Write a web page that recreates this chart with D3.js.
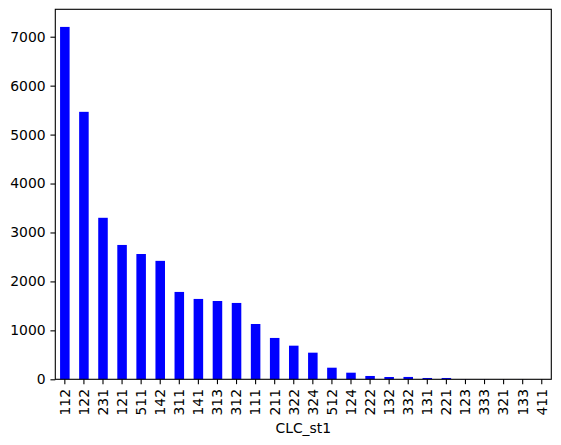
<!DOCTYPE html>
<html>
<head>
<meta charset="utf-8">
<script src="https://cdn.jsdelivr.net/npm/d3@7"></script>
<style>
  body { margin: 0; background: #fff; }
  svg text { font-family: "DejaVu Sans", sans-serif; }
</style>
</head>
<body>
<svg id="chart"></svg>
<script>
// CLC_st1 class counts
var categories = ["112","122","231","121","511","142","311","141","313","312","111","211","322",
                  "324","512","124","222","132","332","131","221","123","333","321","133","411"];
var counts = [7200, 5465, 3300, 2745, 2560, 2420, 1785, 1642, 1600, 1560, 1130, 845, 687,
              544, 237, 135, 68, 47, 48, 27, 27, 4, 3, 2, 2, 1];
var yTicks = [0, 1000, 2000, 3000, 4000, 5000, 6000, 7000];

var width = 561,
    height = 445;
var margin = {top: 9.3, right: 9.7, bottom: 65.7, left: 55.3};
var fontSize = "13.9px",
    tickLen = 4.86;

var svg = d3.select("svg#chart")
  .attr("width", width)
  .attr("height", height);

var x = d3.scaleBand()
  .domain(categories)
  .range([margin.left, width - margin.right])
  .paddingInner(0.5)
  .paddingOuter(0.25);

var y = d3.scaleLinear()
  .domain([0, 7560])
  .range([height - margin.bottom, margin.top]);

// bars
svg.append("g")
  .selectAll("rect")
  .data(counts)
  .enter().append("rect")
    .attr("x", function(d, i){ return x(categories[i]); })
    .attr("y", function(d){ return y(d); })
    .attr("width", x.bandwidth())
    .attr("height", function(d){ return y(0) - y(d); })
    .attr("fill", "#0000ff");

// x axis
var xAxis = svg.append("g")
  .attr("transform", "translate(0," + (height - margin.bottom) + ")")
  .call(d3.axisBottom(x).tickSize(tickLen).tickPadding(tickLen));
xAxis.select(".domain").remove();
xAxis.selectAll("line").attr("stroke", "#000").attr("stroke-width", 1.1);
xAxis.selectAll("text")
  .attr("font-size", fontSize)
  .attr("fill", "#000")
  .attr("transform", "rotate(-90)")
  .attr("text-anchor", "end")
  .attr("x", -2 * tickLen)
  .attr("y", 0)
  .attr("dy", "0.35em");

// y axis
var yAxis = svg.append("g")
  .attr("transform", "translate(" + margin.left + ",0)")
  .call(d3.axisLeft(y).tickValues(yTicks).tickFormat(d3.format("d")).tickSize(tickLen).tickPadding(tickLen));
yAxis.select(".domain").remove();
yAxis.selectAll("line").attr("stroke", "#000").attr("stroke-width", 1.1);
yAxis.selectAll("text").attr("font-size", fontSize).attr("fill", "#000");

// frame
svg.append("rect")
  .attr("x", margin.left)
  .attr("y", margin.top)
  .attr("width", width - margin.left - margin.right)
  .attr("height", height - margin.top - margin.bottom)
  .attr("fill", "none")
  .attr("stroke", "#000")
  .attr("stroke-width", 1.1);

// axis label
svg.append("text")
  .attr("x", (margin.left + width - margin.right) / 2)
  .attr("y", 433)
  .attr("text-anchor", "middle")
  .attr("font-size", fontSize)
  .attr("fill", "#000")
  .text("CLC_st1");
</script>
</body>
</html>
